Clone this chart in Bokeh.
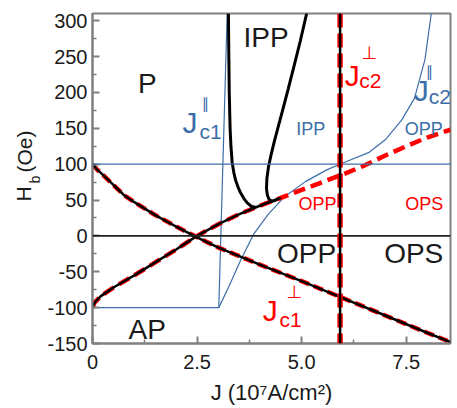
import math
from bokeh.plotting import figure
from bokeh.layouts import row
from bokeh.models import Range1d, FixedTicker, Label, Span
from bokeh.embed import file_html
from bokeh.resources import INLINE

# ---------------- data ----------------
x_ticks = [0, 2.5, 5.0, 7.5]
x_tick_labels = ["0", "2.5", "5.0", "7.5"]
x_minor = [1.25, 3.75, 6.25]
y_ticks = [-150, -100, -50, 0, 50, 100, 150, 200, 250, 300]
y_tick_labels = ["-150", "-100", "-50", "0", "50", "100", "150", "200", "250", "300"]
y_minor = [-125, -75, -25, 25, 75, 125, 175, 225, 275]

# J_c1 perpendicular (descending boundary)
desc_x = [0, 0.1, 0.25, 0.5, 0.75, 1.0, 1.5, 2.0, 2.5, 3.0, 4.0, 5.0, 6.0, 7.0, 8.0, 8.56]
desc_y = [100, 93, 85, 71, 57, 47, 29, 13, -2, -16, -40, -63, -87, -111, -135, -148]

# ascending boundary (black part)
asc_x = [0, 0.05, 0.2, 0.5, 1.0, 1.5, 2.0, 2.5, 3.0, 3.5, 4.0, 4.5]
asc_y = [-100, -93, -84, -72, -55, -37, -19, 0, 16, 30, 42, 53]
# ascending boundary, red dashed (full)
ext_x = [0, 0.05, 0.2, 0.5, 1.0, 1.5, 2.0, 2.5, 3.0, 3.5, 4.0, 4.5, 5.0, 5.5, 6.0, 6.5, 7.0, 7.5, 8.0, 8.56]
ext_y = [-100, -93, -84, -72, -55, -37, -19, 0, 16, 30, 42, 53, 64, 75, 86, 98, 112, 125, 137, 148]

# J_c1 parallel (blue)
jc1_par_x = [0, 3.02, 3.22]
jc1_par_y = [-100, -100, 310]
# J_c2 parallel (blue)
jc2_par_x = [3.02, 3.25, 3.55, 3.85, 4.2, 4.6, 5.1, 5.6, 6.0, 6.6, 7.0, 7.4, 7.7, 7.95, 8.1]
jc2_par_y = [-100, -72, -33, 2, 30, 55, 76, 92, 102, 116, 134, 162, 192, 246, 310]

# IPP region boundary (black)
ipp_left_x = [3.25, 3.26, 3.27, 3.29, 3.31, 3.34, 3.38, 3.42, 3.48, 3.54, 3.62, 3.70, 3.80, 3.9]
ipp_left_y = [310, 250, 200, 150, 125, 102, 88, 78, 68, 60, 52, 46, 41, 40]
ipp_right_x = [4.42, 4.3, 4.22, 4.18, 4.16, 4.17, 4.21, 4.27, 4.34, 4.43, 4.55, 4.68, 4.82, 4.97, 5.12]
ipp_right_y = [51, 48, 51, 57, 66, 80, 97, 113, 130, 150, 176, 205, 237, 272, 310]

jc2_perp = 5.92
h_field = 100

# ---------------- styles ----------------
FONT = "Liberation Sans"
BLUE = "#3b6ea8"
RED = "#ff0000"
GRAY = "#808080"
INK = "#1a1a1a"

p = figure(width=413, height=408,
           x_range=Range1d(0, 8.56), y_range=Range1d(-150, 310),
           output_backend="svg", toolbar_location=None,
           min_border_left=48, min_border_right=7,
           min_border_top=13, min_border_bottom=65)
p.xgrid.visible = False
p.ygrid.visible = False
p.outline_line_color = GRAY
p.outline_line_width = 2
p.background_fill_color = "white"

p.xaxis.ticker = FixedTicker(ticks=x_ticks, minor_ticks=x_minor)
p.yaxis.ticker = FixedTicker(ticks=y_ticks, minor_ticks=y_minor)
p.xaxis.major_label_overrides = {t: l for t, l in zip(x_ticks, x_tick_labels)}
p.yaxis.major_label_overrides = {t: l for t, l in zip(y_ticks, y_tick_labels)}
for ax in (p.xaxis, p.yaxis):
    ax.axis_line_color = GRAY
    ax.axis_line_width = 2
    ax.major_tick_line_color = GRAY
    ax.major_tick_line_width = 2
    ax.minor_tick_line_color = GRAY
    ax.minor_tick_line_width = 1.5
    ax.major_tick_in = 7
    ax.major_tick_out = 0
    ax.minor_tick_in = 4
    ax.minor_tick_out = 0
    ax.major_label_text_font = FONT
    ax.major_label_text_font_size = "20px"
    ax.major_label_text_color = INK
p.xaxis.major_label_standoff = 11
p.yaxis.major_label_standoff = 5
p.xaxis.axis_label = "J (10\u2077A/cm\u00b2)"
p.xaxis.axis_label_text_font = FONT
p.xaxis.axis_label_text_font_style = "normal"
p.xaxis.axis_label_text_font_size = "22px"
p.xaxis.axis_label_text_color = INK
p.xaxis.axis_label_standoff = 8

# reference lines
p.add_layout(Span(location=h_field, dimension="width", line_color=BLUE, line_width=1.2))
p.add_layout(Span(location=0, dimension="width", line_color="#222222", line_width=1.6))

# blue boundaries
p.line(jc1_par_x, jc1_par_y, line_color=BLUE, line_width=1.2)
p.line(jc2_par_x, jc2_par_y, line_color=BLUE, line_width=1.2)

# red dashed under black
p.line(desc_x, desc_y, line_color=RED, line_width=4.5, line_dash="10 5")
p.line(ext_x, ext_y, line_color=RED, line_width=4.5, line_dash="12 6")
p.line(desc_x, desc_y, line_color="black", line_width=2.5)
p.line(asc_x, asc_y, line_color="black", line_width=2.5)
p.line(ipp_left_x, ipp_left_y, line_color="black", line_width=3)
p.line(ipp_right_x, ipp_right_y, line_color="black", line_width=3)

# vertical J_c2 perpendicular
p.add_layout(Span(location=jc2_perp, dimension="height", line_color=RED, line_width=5.5, line_dash="14 6"))
p.add_layout(Span(location=jc2_perp, dimension="height", line_color="black", line_width=2.5))


def txt(fig, x, y, s, size, color=INK, align="left", angle=0.0, font=FONT):
    fig.add_layout(Label(x=x, y=y, text=s, text_font=font, text_font_size=f"{size}px",
                         text_color=color, text_align=align, text_baseline="middle", angle=angle))

# region labels (anchor = vertical centre)
txt(p, 1.31, 212, "P", 28, align="center")
txt(p, 4.15, 276, "IPP", 28, align="center")
txt(p, 5.12, -24, "OPP", 28, align="center")
txt(p, 7.68, -24, "OPS", 28, align="center")
txt(p, 1.31, -130.5, "AP", 28, align="center")
txt(p, 5.22, 149, "IPP", 18, color=BLUE, align="center")
txt(p, 7.92, 149, "OPP", 18, color=BLUE, align="center")
txt(p, 5.38, 45, "OPP", 18, color=RED, align="center")
txt(p, 7.93, 45, "OPS", 18, color=RED, align="center")


def jlabel(jx, jy, sx, sy, ux, uy, sub, sup, color, supsize):
    txt(p, jx, jy, "J", 30, color=color)
    txt(p, sx, sy, sub, 21, color=color)
    txt(p, ux, uy, sup, supsize, color=color, font="DejaVu Sans")

jlabel(2.15, 158, 2.56, 146, 2.61, 184, "c1", "\u2225", BLUE, 15)
jlabel(6.03, 224, 6.38, 216, 6.43, 255, "c2", "\u22a5", RED, 18)
jlabel(4.07, -104, 4.47, -116, 4.64, -77, "c1", "\u22a5", RED, 18)
jlabel(7.68, 202, 8.04, 195, 7.97, 228, "c2", "\u2225", BLUE, 15)

# y-axis title panel: frame is aligned with the main plot frame (page y 13..343),
# so its y range is expressed as 408 - page_y
yt = figure(width=44, height=408, x_range=Range1d(0, 44), y_range=Range1d(65, 395),
            output_backend="svg", toolbar_location=None,
            x_axis_location=None, y_axis_location=None,
            min_border=0, min_border_left=0, min_border_right=0,
            min_border_top=13, min_border_bottom=65)
yt.outline_line_color = None
yt.xgrid.visible = False
yt.ygrid.visible = False
txt(yt, 22.5, 214.5, "H", 21, align="center", angle=math.pi / 2)
txt(yt, 34, 229, "b", 14, align="center", angle=math.pi / 2)
txt(yt, 24, 257, "(Oe)", 21, align="center", angle=math.pi / 2)

layout = row(yt, p)
open("out.html", "w").write(file_html(layout, INLINE))
